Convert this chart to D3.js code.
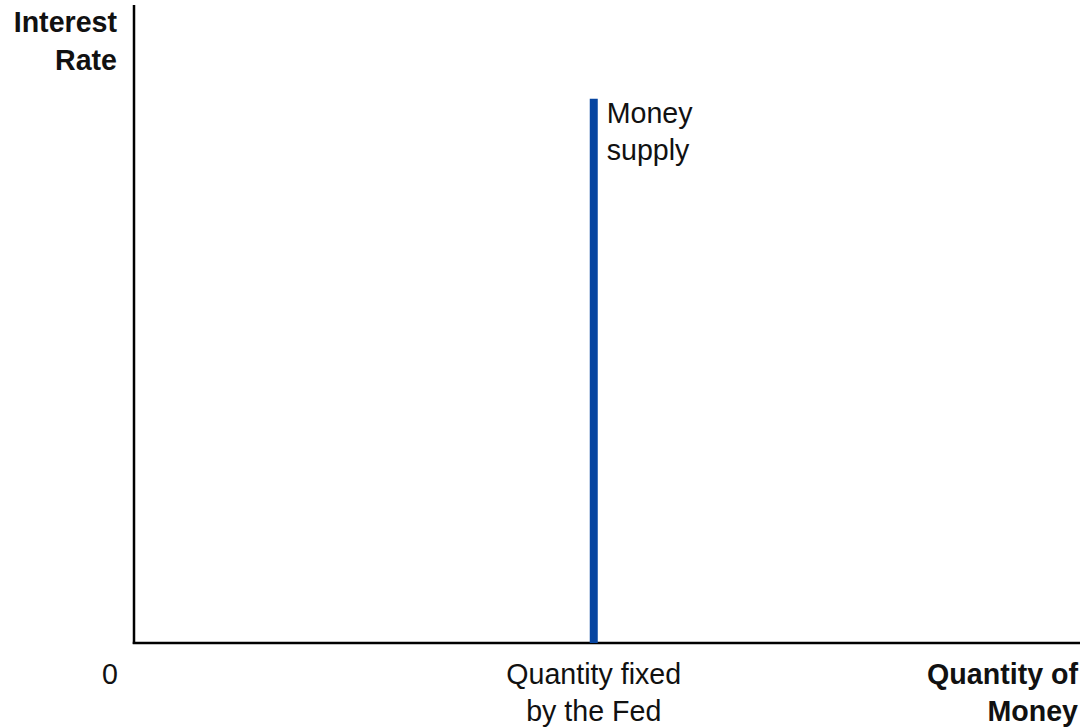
<!DOCTYPE html>
<html>
<head>
<meta charset="utf-8">
<script src="https://cdn.jsdelivr.net/npm/d3@7"></script>
<style>
  html, body { margin: 0; padding: 0; background: #fff; }
  svg { display: block; font-family: "Liberation Sans", Arial, sans-serif; }
</style>
</head>
<body>
<svg id="chart" width="1084" height="728"></svg>
<script>
// Axis ranges (quantity of money, interest rate) in arbitrary units
const xDomain = [0, 100];
const yDomain = [0, 100];

// Vertical money-supply curve: quantity fixed by the Fed
const supplyQuantity = [48.6, 48.6];
const supplyRate = [0, 85.3];

// Text labels
const yAxisTitle = ["Interest", "Rate"];
const xAxisTitle = ["Quantity of", "Money"];
const originLabel = ["0"];
const fixedLabel = ["Quantity fixed", "by the Fed"];
const supplyLabel = ["Money", "supply"];

const svg = d3.select("#chart");
const margin = { left: 134, right: 4, top: 5, bottom: 85 };
const W = 1084, H = 728;

const x = d3.scaleLinear().domain(xDomain).range([margin.left, W - margin.right]);
const y = d3.scaleLinear().domain(yDomain).range([H - margin.bottom, margin.top]);

const fontSize = 28.6;
const lineGap = 37;

// Axes
svg.append("line")
  .attr("x1", x(0)).attr("x2", x(0))
  .attr("y1", y(0) + 1).attr("y2", y(yDomain[1]))
  .attr("stroke", "#000").attr("stroke-width", 2.5);
svg.append("line")
  .attr("x1", x(0) - 1.25).attr("x2", x(xDomain[1]))
  .attr("y1", y(0)).attr("y2", y(0))
  .attr("stroke", "#000").attr("stroke-width", 2.5);

// Money supply line
const line = d3.line().x(d => x(d[0])).y(d => y(d[1]));
svg.append("path")
  .datum(supplyQuantity.map((q, i) => [q, supplyRate[i]]))
  .attr("d", line)
  .attr("fill", "none")
  .attr("stroke", "#0645a0")
  .attr("stroke-width", 8);

// Money supply label
svg.append("text")
  .attr("x", x(supplyQuantity[1]) + 13)
  .attr("y", y(supplyRate[1]) + 24)
  .attr("font-size", fontSize)
  .attr("fill", "#111")
  .selectAll("tspan").data(supplyLabel).join("tspan")
  .attr("x", x(supplyQuantity[1]) + 13)
  .attr("dy", (d, i) => i === 0 ? 0 : lineGap)
  .text(d => d);

// Y axis title
svg.append("text")
  .attr("text-anchor", "end")
  .attr("font-size", fontSize)
  .attr("font-weight", "bold")
  .attr("fill", "#111")
  .attr("y", 32)
  .selectAll("tspan").data(yAxisTitle).join("tspan")
  .attr("x", 117)
  .attr("dy", (d, i) => i === 0 ? 0 : lineGap + 1)
  .text(d => d);

// X axis title
svg.append("text")
  .attr("text-anchor", "end")
  .attr("font-size", fontSize)
  .attr("font-weight", "bold")
  .attr("fill", "#111")
  .attr("y", 684)
  .selectAll("tspan").data(xAxisTitle).join("tspan")
  .attr("x", 1078)
  .attr("dy", (d, i) => i === 0 ? 0 : lineGap)
  .text(d => d);

// Origin label
svg.append("text")
  .attr("text-anchor", "middle")
  .attr("font-size", fontSize)
  .attr("fill", "#111")
  .attr("x", 110).attr("y", 684)
  .text(originLabel[0]);

// Fixed quantity label under the supply line
svg.append("text")
  .attr("text-anchor", "middle")
  .attr("font-size", fontSize)
  .attr("fill", "#111")
  .attr("y", 684)
  .selectAll("tspan").data(fixedLabel).join("tspan")
  .attr("x", x(supplyQuantity[0]))
  .attr("dy", (d, i) => i === 0 ? 0 : lineGap)
  .text(d => d);
</script>
</body>
</html>
